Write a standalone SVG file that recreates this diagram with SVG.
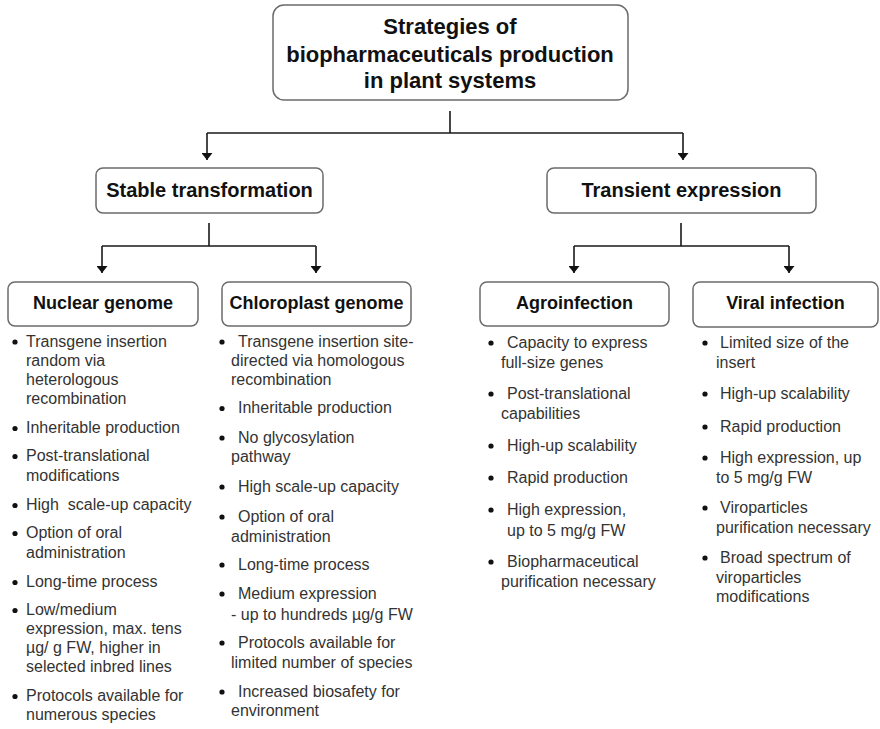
<svg xmlns="http://www.w3.org/2000/svg" width="880" height="729" viewBox="0 0 880 729">
  <style>
    .box { fill: #ffffff; stroke: #6b6b6b; stroke-width: 1.5; }
    .title { font-family: "Liberation Sans", Arial, sans-serif; font-weight: bold; font-size: 22px; fill: #111; text-anchor: middle; }
    .h1 { font-family: "Liberation Sans", Arial, sans-serif; font-weight: bold; font-size: 20px; fill: #111; text-anchor: middle; }
    .h2 { font-family: "Liberation Sans", Arial, sans-serif; font-weight: bold; font-size: 18px; fill: #111; text-anchor: middle; }
    .body { font-family: "Liberation Sans", Arial, sans-serif; font-size: 16px; fill: #333; }
    .dot { fill: #111; }
    .wire { fill: none; stroke: #1a1a1a; stroke-width: 1.6; }
  </style>
  <defs>
    <marker id="arrow" viewBox="0 0 7 11" refX="7" refY="5.5" markerWidth="7" markerHeight="11" markerUnits="userSpaceOnUse" orient="auto">
      <path d="M0,0 L7,5.5 L0,11 z" fill="#111"/>
    </marker>
  </defs>

  <rect width="880" height="729" fill="#ffffff"/>

  <!-- connectors -->
  <g id="connectors">
    <path class="wire" d="M450,111 V133 M207,133 H683"/>
    <path class="wire" d="M207,133 V160" marker-end="url(#arrow)"/>
    <path class="wire" d="M683,133 V160" marker-end="url(#arrow)"/>
    <path class="wire" d="M209,223 V246 M102,246 H316"/>
    <path class="wire" d="M102,246 V273" marker-end="url(#arrow)"/>
    <path class="wire" d="M316,246 V273" marker-end="url(#arrow)"/>
    <path class="wire" d="M681,223 V246 M574,246 H789"/>
    <path class="wire" d="M574,246 V273" marker-end="url(#arrow)"/>
    <path class="wire" d="M789,246 V273" marker-end="url(#arrow)"/>
  </g>

  <!-- root -->
  <g id="root">
    <rect class="box" x="273" y="5" width="355" height="95" rx="11"/>
    <text class="title" x="450" y="34">Strategies of</text>
    <text class="title" x="450" y="61.5">biopharmaceuticals production</text>
    <text class="title" x="450" y="88">in plant systems</text>
  </g>

  <g id="stable">
    <rect class="box" x="96" y="168" width="227" height="45" rx="7"/>
    <text class="h1" x="209.5" y="197">Stable transformation</text>
  </g>

  <g id="transient">
    <rect class="box" x="547" y="168" width="269" height="45" rx="7"/>
    <text class="h1" x="681.5" y="197">Transient expression</text>
  </g>

  <!-- nuclear genome -->
  <g id="nuclear">
    <rect class="box" x="8" y="282" width="190" height="44" rx="7"/>
    <text class="h2" x="103" y="309">Nuclear genome</text>
    <g class="dot">
      <circle cx="15" cy="342" r="2.6"/>
      <circle cx="15" cy="428.5" r="2.6"/>
      <circle cx="15" cy="456.5" r="2.6"/>
      <circle cx="15" cy="505.5" r="2.6"/>
      <circle cx="15" cy="533.5" r="2.6"/>
      <circle cx="15" cy="582.5" r="2.6"/>
      <circle cx="15" cy="610.5" r="2.6"/>
      <circle cx="15" cy="696.5" r="2.6"/>
    </g>
    <text class="body">
      <tspan x="26" y="347">Transgene insertion</tspan>
      <tspan x="26" y="366">random via</tspan>
      <tspan x="26" y="385">heterologous</tspan>
      <tspan x="26" y="404">recombination</tspan>
      <tspan x="26" y="433">Inheritable production</tspan>
      <tspan x="26" y="461">Post-translational</tspan>
      <tspan x="26" y="481">modifications</tspan>
      <tspan x="26" y="510">High&#160; scale-up capacity</tspan>
      <tspan x="26" y="538">Option of oral</tspan>
      <tspan x="26" y="558">administration</tspan>
      <tspan x="26" y="587">Long-time process</tspan>
      <tspan x="26" y="615">Low/medium</tspan>
      <tspan x="26" y="634">expression, max. tens</tspan>
      <tspan x="26" y="653">µg/ g FW, higher in</tspan>
      <tspan x="26" y="672">selected inbred lines</tspan>
      <tspan x="26" y="701">Protocols available for</tspan>
      <tspan x="26" y="720">numerous species</tspan>
    </text>
  </g>

  <!-- chloroplast genome -->
  <g id="chloroplast">
    <rect class="box" x="222" y="282" width="189" height="44" rx="7"/>
    <text class="h2" x="316.5" y="309">Chloroplast genome</text>
    <g class="dot">
      <circle cx="222" cy="342" r="2.6"/>
      <circle cx="222" cy="408.5" r="2.6"/>
      <circle cx="222" cy="438" r="2.6"/>
      <circle cx="222" cy="487" r="2.6"/>
      <circle cx="222" cy="517" r="2.6"/>
      <circle cx="222" cy="565" r="2.6"/>
      <circle cx="222" cy="594" r="2.6"/>
      <circle cx="222" cy="643" r="2.6"/>
      <circle cx="222" cy="692" r="2.6"/>
    </g>
    <text class="body">
      <tspan x="238" y="347">Transgene insertion site-</tspan>
      <tspan x="231" y="366">directed via homologous</tspan>
      <tspan x="231" y="385">recombination</tspan>
      <tspan x="238" y="413">Inheritable production</tspan>
      <tspan x="238" y="443">No glycosylation</tspan>
      <tspan x="231" y="462">pathway</tspan>
      <tspan x="238" y="492">High scale-up capacity</tspan>
      <tspan x="238" y="522">Option of oral</tspan>
      <tspan x="231" y="542">administration</tspan>
      <tspan x="238" y="570">Long-time process</tspan>
      <tspan x="238" y="599">Medium expression</tspan>
      <tspan x="231" y="620">- up to hundreds µg/g FW</tspan>
      <tspan x="238" y="648">Protocols available for</tspan>
      <tspan x="231" y="668">limited number of species</tspan>
      <tspan x="238" y="697">Increased biosafety for</tspan>
      <tspan x="231" y="716">environment</tspan>
    </text>
  </g>

  <!-- agroinfection -->
  <g id="agroinfection">
    <rect class="box" x="480" y="282" width="189" height="44" rx="7"/>
    <text class="h2" x="574.5" y="309">Agroinfection</text>
    <g class="dot">
      <circle cx="491" cy="343" r="2.6"/>
      <circle cx="491" cy="394" r="2.6"/>
      <circle cx="491" cy="446" r="2.6"/>
      <circle cx="491" cy="478" r="2.6"/>
      <circle cx="491" cy="510" r="2.6"/>
      <circle cx="491" cy="562" r="2.6"/>
    </g>
    <text class="body">
      <tspan x="507" y="348">Capacity to express</tspan>
      <tspan x="501" y="368">full-size genes</tspan>
      <tspan x="507" y="399">Post-translational</tspan>
      <tspan x="501" y="419">capabilities</tspan>
      <tspan x="507" y="451">High-up scalability</tspan>
      <tspan x="507" y="483">Rapid production</tspan>
      <tspan x="507" y="515">High expression,</tspan>
      <tspan x="507" y="536">up to 5 mg/g FW</tspan>
      <tspan x="507" y="567">Biopharmaceutical</tspan>
      <tspan x="501" y="587">purification necessary</tspan>
    </text>
  </g>

  <!-- viral infection -->
  <g id="viral">
    <rect class="box" x="693" y="282" width="185" height="45" rx="7"/>
    <text class="h2" x="785.5" y="309">Viral infection</text>
    <g class="dot">
      <circle cx="705" cy="343" r="2.6"/>
      <circle cx="705" cy="394" r="2.6"/>
      <circle cx="705" cy="427" r="2.6"/>
      <circle cx="705" cy="458" r="2.6"/>
      <circle cx="705" cy="508" r="2.6"/>
      <circle cx="705" cy="558" r="2.6"/>
    </g>
    <text class="body">
      <tspan x="720" y="348">Limited size of the</tspan>
      <tspan x="716" y="368">insert</tspan>
      <tspan x="720" y="399">High-up scalability</tspan>
      <tspan x="720" y="432">Rapid production</tspan>
      <tspan x="720" y="463">High expression, up</tspan>
      <tspan x="716" y="483">to 5 mg/g FW</tspan>
      <tspan x="720" y="513">Viroparticles</tspan>
      <tspan x="716" y="533">purification necessary</tspan>
      <tspan x="720" y="563">Broad spectrum of</tspan>
      <tspan x="716" y="583">viroparticles</tspan>
      <tspan x="716" y="602">modifications</tspan>
    </text>
  </g>
</svg>
